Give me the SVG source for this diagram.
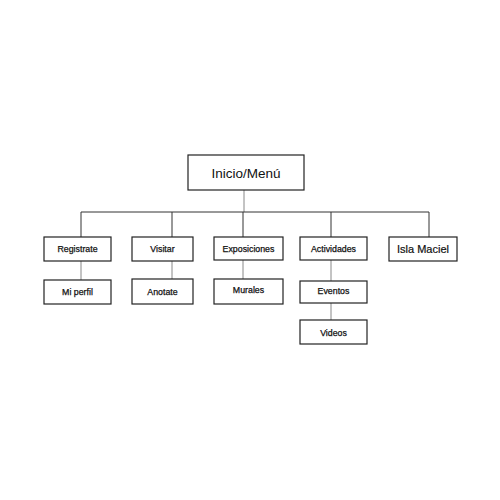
<svg xmlns="http://www.w3.org/2000/svg" width="500" height="500" viewBox="0 0 500 500">
<style>
rect{fill:#fff;stroke:#222;stroke-width:1.2}
text{font-family:"Liberation Sans",Arial,sans-serif;fill:#111;text-anchor:middle;dominant-baseline:central}
.s{font-size:8.8px;stroke:#111;stroke-width:0.25}
.c{stroke:#333;stroke-width:1;fill:none}
.g{stroke:#888;stroke-width:1;fill:none}
</style>
<rect x="0" y="0" width="500" height="500" style="fill:#fff;stroke:none"/>
<g id="connectors">
<path class="g" d="M244 190V212"/>
<path class="c" d="M81 212H429M81 212V237M172 212V237M243 212V237M331 212V237M429 212V237"/>
<path class="g" d="M81 261V280M172 261V279M243 260V279M331 260V281M331 303V320"/>
</g>
<g id="inicio"><rect x="188" y="155" width="116" height="35"/><text x="246" y="173" style="font-size:13.5px">Inicio/Menú</text></g>
<g id="registrate"><rect x="44" y="237" width="67" height="24"/><text class="s" x="77.5" y="249">Registrate</text></g>
<g id="visitar"><rect x="132" y="237" width="61" height="24"/><text class="s" x="162.5" y="249">Visitar</text></g>
<g id="exposiciones"><rect x="214" y="237" width="69" height="23"/><text class="s" x="248.5" y="248.5">Exposiciones</text></g>
<g id="actividades"><rect x="300" y="237" width="67" height="23"/><text class="s" x="333.5" y="248.5">Actividades</text></g>
<g id="islamaciel"><rect x="389" y="237" width="68" height="24"/><text x="423" y="249" style="font-size:11px;stroke:#111;stroke-width:0.2">Isla Maciel</text></g>
<g id="miperfil"><rect x="44" y="280" width="67" height="24"/><text class="s" x="77.5" y="292">Mi perfil</text></g>
<g id="anotate"><rect x="132" y="279" width="61" height="25"/><text class="s" x="162.5" y="291.5">Anotate</text></g>
<g id="murales"><rect x="214" y="279" width="69" height="25"/><text class="s" x="248.5" y="290">Murales</text></g>
<g id="eventos"><rect x="300" y="281" width="67" height="22"/><text class="s" x="333.5" y="291">Eventos</text></g>
<g id="videos"><rect x="300" y="320" width="67" height="24"/><text class="s" x="333.5" y="333">Videos</text></g>
</svg>
